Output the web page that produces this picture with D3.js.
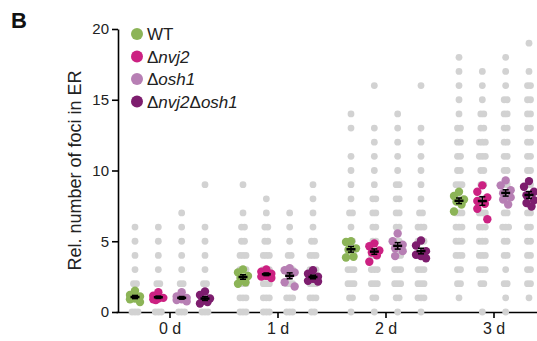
<!DOCTYPE html>
<html>
<head>
<meta charset="utf-8">
<script src="https://cdn.jsdelivr.net/npm/d3@7"></script>
<style>
  body { margin: 0; background: #fff; }
  svg { font-family: "Liberation Sans", Arial, Helvetica, sans-serif; }
  .axis path, .axis line { stroke: #000; stroke-width: 1.6px; }
  .axis text { fill: #222; }
</style>
</head>
<body>
<script>
const days = ['0 d', '1 d', '2 d', '3 d'];
const strains = ['WT', 'nvj2', 'osh1', 'nvj2osh1'];
const legendParts = [
  [['WT', false]],
  [['Δ', false], ['nvj2', true]],
  [['Δ', false], ['osh1', true]],
  [['Δ', false], ['nvj2', true], ['Δ', false], ['osh1', true]]
];
const yTicks = [0, 5, 10, 15, 20];

// grey single-cell values: how wide the stack is at each integer count (index = foci count)
const cells0d = [
  [3, 3, 2, 1, 1, 1, 1],
  [3, 3, 2, 1, 1, 1, 1],
  [3, 3, 2, 1, 1, 1, 1, 1],
  [3, 3, 2, 1, 1, 1, 1, 0, 0, 1]
];
const cells1d = [
  [3, 3, 3, 3, 3, 2, 2, 1, 0, 1],
  [3, 3, 3, 3, 3, 2, 2, 1, 1],
  [3, 3, 3, 3, 2, 1, 1, 1],
  [2, 3, 3, 3, 3, 2, 1, 1, 1, 1]
];
const cells2d = [
  [1, 2, 3, 3, 3, 2, 1, 2, 1, 1, 1, 1, 0, 1, 1],
  [1, 2, 3, 3, 3, 2, 2, 2, 2, 1, 1, 1, 1, 1, 0, 0, 1],
  [1, 2, 3, 3, 3, 2, 2, 2, 2, 2, 1, 1, 1, 1, 1],
  [1, 3, 3, 3, 3, 3, 3, 2, 1, 1, 1, 1, 1, 1, 0, 0, 1]
];
const cells3d = [
  [0, 1, 2, 2, 3, 3, 3, 3, 3, 3, 2, 2, 2, 2, 1, 1, 1, 1, 1, 0],
  [1, 0, 2, 3, 3, 3, 3, 3, 2, 2, 2, 3, 3, 2, 2, 1, 1, 1, 0, 0],
  [1, 1, 2, 1, 2, 2, 3, 2, 2, 2, 2, 2, 2, 2, 2, 2, 1, 1, 1, 0],
  [0, 1, 2, 2, 2, 2, 2, 2, 2, 2, 2, 2, 2, 2, 2, 2, 2, 1, 0, 1]
];

// replicate means
const reps0d = [
  [1.5, 1.2, 1.1, 0.95, 0.9, 0.7],
  [1.4, 1.15, 1.0, 0.95, 0.85, 0.9],
  [1.4, 1.1, 1.0, 0.9, 0.75, 0.85],
  [1.45, 1.2, 0.95, 0.8, 0.6, 0.7]
];
const reps1d = [
  [3.0, 2.8, 2.55, 2.4, 2.1, 2.0],
  [3.0, 2.85, 2.7, 2.55, 2.4, 2.5],
  [3.1, 2.95, 2.8, 2.6, 2.1, 1.8],
  [2.95, 2.7, 2.5, 2.35, 2.15, 2.2]
];
const reps2d = [
  [5.0, 4.95, 4.5, 4.4, 3.9, 3.85],
  [4.85, 4.65, 4.35, 4.2, 4.0, 3.55],
  [5.55, 5.0, 4.75, 4.5, 4.3, 3.95],
  [5.05, 4.7, 4.3, 4.05, 3.95, 3.8]
];
const reps3d = [
  [8.5, 8.2, 7.95, 7.8, 7.6, 7.1],
  [8.95, 8.5, 8.1, 7.85, 7.65, 7.3, 6.55],
  [9.3, 8.95, 8.6, 8.4, 8.1, 7.95, 7.6],
  [9.25, 8.85, 8.5, 8.25, 7.9, 7.7, 7.45]
];

const cells = [cells0d, cells1d, cells2d, cells3d];
const reps = [reps0d, reps1d, reps2d, reps3d];
const colors = ['#8cb457', '#cc2182', '#b77fb4', '#7d1d6e'];

const width = 537, height = 341;
const svg = d3.select('body').append('svg')
  .attr('width', width)
  .attr('height', height);

const y = d3.scaleLinear().domain([0, 20]).range([312, 29]);
const x = d3.scaleBand().domain(days).range([116, 548]);
const xi = d3.scalePoint().domain(strains).range([-35, 35]);

// axes
svg.append('g')
  .attr('class', 'axis y')
  .attr('transform', 'translate(118,0)')
  .call(d3.axisLeft(y).tickValues(yTicks).tickSize(6).tickSizeOuter(0).tickPadding(3))
  .selectAll('text')
  .attr('font-size', '15px');

svg.append('g')
  .attr('class', 'axis x')
  .attr('transform', 'translate(0,312)')
  .call(d3.axisBottom(x).tickSize(6).tickSizeOuter(0).tickPadding(5))
  .selectAll('text')
  .attr('font-size', '16px');

// grey single cells, drawn on top of the axis line like the original
const gGrey = svg.append('g').attr('fill', '#d2d2d2');
days.forEach((day, di) => {
  strains.forEach((s, si) => {
    const cx = x(day) + x.bandwidth() / 2 + xi(s);
    cells[di][si].forEach((n, v) => {
      for (let k = 0; k < n; k++) {
        gGrey.append('circle')
          .attr('cx', cx + (k - (n - 1) / 2) * 3)
          .attr('cy', y(v))
          .attr('r', 3.4);
      }
    });
  });
});

// compact swarm: pick the offset that keeps a dot furthest from the ones already placed
const offsets = [0, -2.5, 2.5, -5, 5];
function swarm(values) {
  const placed = [];
  values.slice().sort((a, b) => b - a).forEach(v => {
    const py = y(v);
    let best = 0, bestD = -1;
    offsets.forEach(o => {
      const d = placed.length ? d3.min(placed, p => Math.hypot(p.dx - o, p.py - py)) : 99;
      if (d > bestD + 0.5) { bestD = d; best = o; }
    });
    placed.push({ py: py, dx: best });
  });
  return placed;
}

const rRep = 4.2;
days.forEach((day, di) => {
  strains.forEach((s, si) => {
    const cx = x(day) + x.bandwidth() / 2 + xi(s);
    const vals = reps[di][si];
    const g = svg.append('g');
    g.selectAll('circle')
      .data(swarm(vals))
      .enter().append('circle')
      .attr('cx', d => cx + d.dx)
      .attr('cy', d => d.py)
      .attr('r', rRep)
      .attr('fill', colors[si]);

    const m = d3.mean(vals);
    const sem = d3.deviation(vals) / Math.sqrt(vals.length);
    const eb = g.append('g').attr('stroke', '#000').attr('stroke-width', 1.5);
    eb.append('line').attr('x1', cx).attr('x2', cx).attr('y1', y(m - sem)).attr('y2', y(m + sem));
    eb.append('line').attr('x1', cx - 3).attr('x2', cx + 3).attr('y1', y(m - sem)).attr('y2', y(m - sem));
    eb.append('line').attr('x1', cx - 3).attr('x2', cx + 3).attr('y1', y(m + sem)).attr('y2', y(m + sem));
    eb.append('line').attr('x1', cx - 4.5).attr('x2', cx + 4.5).attr('y1', y(m)).attr('y2', y(m)).attr('stroke-width', 2.5);
  });
});

// y label
svg.append('text')
  .attr('transform', 'translate(81,' + ((y(0) + y(20)) / 2) + ') rotate(-90)')
  .attr('text-anchor', 'middle')
  .attr('font-size', '18px')
  .attr('fill', '#222')
  .text('Rel. number of foci in ER');

// panel letter
svg.append('text')
  .attr('x', 11)
  .attr('y', 28)
  .attr('font-size', '22px')
  .attr('font-weight', 'bold')
  .attr('fill', '#111')
  .text('B');

// legend
const legend = svg.append('g');
legendParts.forEach((parts, i) => {
  const ly = 34 + i * 22.5;
  legend.append('circle')
    .attr('cx', 137)
    .attr('cy', ly)
    .attr('r', 6)
    .attr('fill', colors[i]);
  const t = legend.append('text')
    .attr('x', 147)
    .attr('y', ly)
    .attr('dy', '0.36em')
    .attr('font-size', '17px')
    .attr('fill', '#222');
  parts.forEach(p => {
    t.append('tspan')
      .attr('font-style', p[1] ? 'italic' : 'normal')
      .text(p[0]);
  });
});
</script>
</body>
</html>
